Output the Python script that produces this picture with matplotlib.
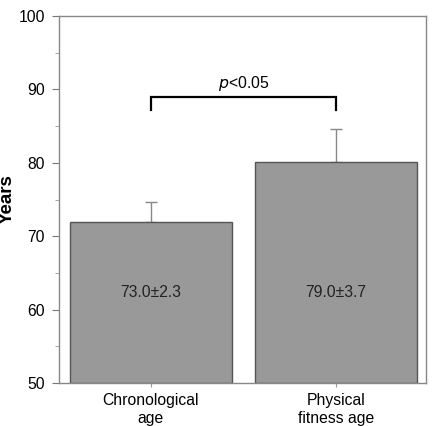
import matplotlib
matplotlib.use("Agg")
import matplotlib.pyplot as plt
from matplotlib.ticker import MultipleLocator

plt.rcParams['font.family'] = ['Liberation Sans', 'DejaVu Sans']

categories = ["Chronological\nage", "Physical\nfitness age"]
values = [72.0, 80.1]
errors = [2.7, 4.5]
labels = ["73.0\u00b12.3", "79.0\u00b13.7"]
bracket_y = 89.0
bracket_drop = 1.8
p_text = "p<0.05"

fs = 11.3

fig = plt.figure(figsize=(4.32, 4.26), dpi=100)
ax = fig.add_axes([0.1366, 0.1009, 0.8494, 0.8615])

x = [0, 1]
ax.bar(x, [v - 50 for v in values], bottom=50, width=0.876, color="#999999",
       edgecolor="#555555", linewidth=1.0, zorder=2)
ax.errorbar(x, values, yerr=[[0, 0], errors], fmt="none", ecolor="#888888",
            elinewidth=1.0, capsize=4, capthick=1.0, zorder=1)

for xi, lab in zip(x, labels):
    ax.text(xi, 62.3, lab, ha="center", va="center", fontsize=fs, color="#222222")

ax.plot([x[0], x[0], x[1], x[1]],
        [bracket_y - bracket_drop, bracket_y, bracket_y, bracket_y - bracket_drop],
        color="black", linewidth=1.6, solid_joinstyle="miter", zorder=3)
ax.text(0.5, bracket_y + 0.45, "$p$<0.05", ha="center", va="bottom", fontsize=fs)

ax.set_xlim(-0.497, 1.486)
ax.set_ylim(50, 100)
ax.yaxis.set_major_locator(MultipleLocator(10))
ax.yaxis.set_minor_locator(MultipleLocator(5))
ax.set_xticks(x)
ax.set_xticklabels(categories, fontsize=fs, linespacing=1.25)
ax.tick_params(axis="y", which="major", length=5, color="#777777", labelsize=fs, pad=5)
ax.tick_params(axis="y", which="minor", length=3, color="#999999")
ax.tick_params(axis="x", length=3, color="#999999", pad=4)
for s in ax.spines.values():
    s.set_color("#888888")
    s.set_linewidth(1.0)
ax.set_ylabel("Years", fontsize=13.5, fontweight="bold")
ax.yaxis.set_label_coords(-0.118, 0.5)

fig.savefig("out.png", dpi=100)
